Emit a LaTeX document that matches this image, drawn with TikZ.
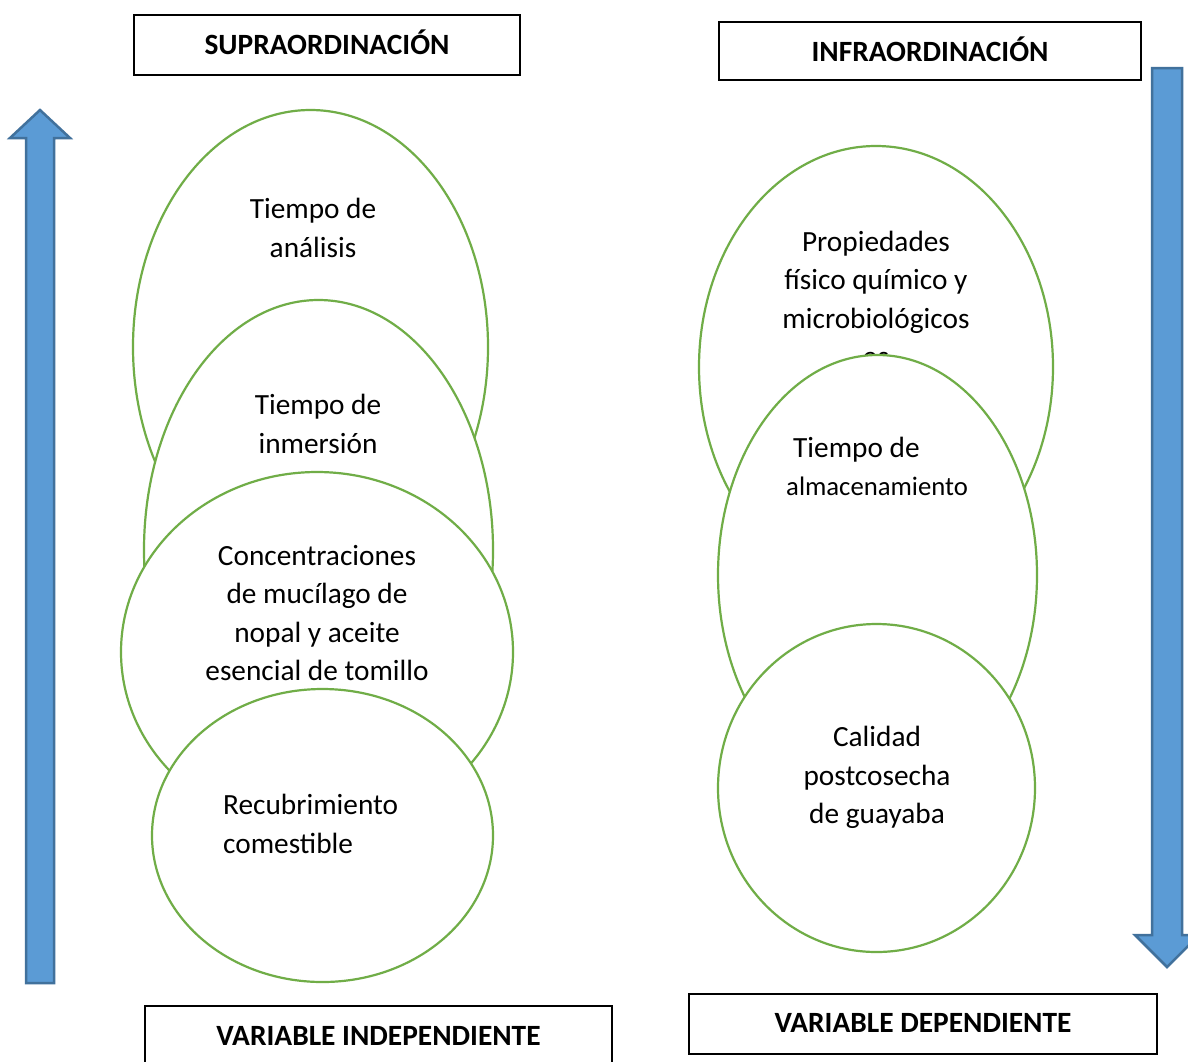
\documentclass[tikz,border=0pt]{standalone}
\usepackage{fontspec}
\setmainfont{Carlito}
\usetikzlibrary{shapes.geometric}
\definecolor{arrowfill}{HTML}{5B9BD5}
\definecolor{arrowline}{HTML}{41719C}
\definecolor{ringgreen}{HTML}{70AD47}
\tikzset{
  elli/.style={ellipse, draw=ringgreen, line width=2.2pt, fill=white, inner sep=0pt},
  txt/.style={align=center, inner sep=0pt, font=\fontsize{29.3}{38.5}\selectfont},
  txtsmall/.style={inner sep=0pt, font=\fontsize{26.7}{32}\selectfont},
  titlebox/.style={draw=black, line width=1.8pt, fill=white, inner sep=0pt},
  titletxt/.style={inner sep=0pt, font=\fontsize{29.4}{34}\selectfont\bfseries},
  bigarrow/.style={fill=arrowfill, draw=arrowline, line width=2.5pt, line join=miter}
}
\begin{document}
\begin{tikzpicture}[x=1pt,y=-1pt]
\useasboundingbox (0,0) rectangle (1188,1061);
\fill[white] (0,0) rectangle (1188,1061);

% arrows
\draw[bigarrow] (26,983) -- (26,138) -- (10,138) -- (40,110) -- (70,138) -- (54,138) -- (54,983) -- cycle;
\begin{scope}
\clip (0,0) rectangle (1188,1061);
\draw[bigarrow] (1152,68) -- (1182,68) -- (1182,935) -- (1199,935) -- (1167,967) -- (1135,935) -- (1152,935) -- cycle;
\end{scope}

% title boxes
\node[titlebox, minimum width=386pt, minimum height=60pt] (sup) at (327,45) {};
\node[titletxt] (suptxt) at (327,42) {SUPRAORDINACIÓN};
\node[titlebox, minimum width=422pt, minimum height=58pt] (inf) at (930,51) {};
\node[titletxt] (inftxt) at (930,49) {INFRAORDINACIÓN};
\node[titlebox, minimum width=467pt, minimum height=70pt] (vi) at (378.5,1041) {};
\node[titletxt] (vitxt) at (378.5,1036) {VARIABLE INDEPENDIENTE};
\node[titlebox, minimum width=468pt, minimum height=60pt] (vd) at (923,1024) {};
\node[titletxt] (vdtxt) at (923,1023) {VARIABLE DEPENDIENTE};

% left ellipses
\node[elli, minimum width=355pt, minimum height=474pt] (e1) at (310.5,347) {};
\node[txt] (t1) at (313,228) {Tiempo de\\análisis};
\node[elli, minimum width=349pt, minimum height=500pt] (e2) at (318.5,550) {};
\node[txt] (t2) at (318,424) {Tiempo de\\inmersión};
\node[elli, minimum width=392pt, minimum height=360pt] (e3) at (317,652) {};
\node[txt] (t3) at (317,613) {Concentraciones\\de mucílago de\\nopal y aceite\\esencial de tomillo};
\node[elli, minimum width=341pt, minimum height=293pt] (e4) at (322.5,835.5) {};
\node[txt, align=left, anchor=west] (t4) at (223,824) {Recubrimiento\\comestible};

% right ellipses
\node[elli, minimum width=354pt, minimum height=442pt] (r1) at (876,367) {};
\node[txt] (s1) at (876,299) {Propiedades\\físico químico y\\microbiológicos\\es};
\node[elli, minimum width=319pt, minimum height=440pt] (r2) at (877.5,575) {};
\node[txt, anchor=west] (s2a) at (793,450) {Tiempo de};
\node[txtsmall, anchor=west] (s2b) at (786,486) {almacenamiento};
\node[elli, minimum width=317pt, minimum height=328pt] (r3) at (876.5,788) {};
\node[txt] (s3) at (877,777.5) {Calidad\\postcosecha\\de guayaba};
\end{tikzpicture}
\end{document}
